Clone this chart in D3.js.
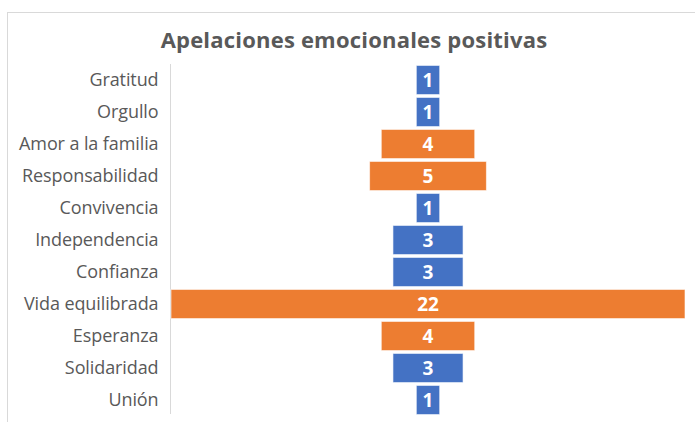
<!DOCTYPE html>
<html>
<head>
<meta charset="utf-8">
<script src="https://cdn.jsdelivr.net/npm/d3@7"></script>
<style>
  body { margin: 0; background: #fff; }
  svg { display: block; font-family: "Open Sans", sans-serif; }
</style>
</head>
<body>
<svg id="chart" width="695" height="422"></svg>
<script>
// data
var categories = ["Gratitud", "Orgullo", "Amor a la familia", "Responsabilidad", "Convivencia",
    "Independencia", "Confianza", "Vida equilibrada", "Esperanza", "Solidaridad", "Unión"];
var values = [1, 1, 4, 5, 1, 3, 3, 22, 4, 3, 1];
var groups = ["a", "a", "b", "b", "a", "a", "a", "b", "b", "a", "a"];
var title = "Apelaciones emocionales positivas";

var svg = d3.select("#chart");
const width = +svg.attr("width"),
    height = +svg.attr("height");

var color = d3.scaleOrdinal().domain(["a", "b"]).range(["#4472C4", "#ED7D31"]);

// chart frame
svg.append("rect")
    .attr("x", 7.5).attr("y", 12.5)
    .attr("width", 700).attr("height", 420)
    .attr("fill", "#fff")
    .attr("stroke", "#d9d9d9");

svg.append("text")
    .attr("x", 354).attr("y", 48)
    .attr("text-anchor", "middle")
    .attr("fill", "#595959")
    .style("font-size", "22px")
    .style("font-weight", "bold")
    .style("letter-spacing", "0.2px")
    .text(title);

var maxV = d3.max(values);
var x = d3.scaleLinear().domain([-maxV / 2, maxV / 2]).range([171, 685]);
var y = d3.scaleBand().domain(categories).range([64, 416]).paddingInner(0.09).paddingOuter(0.045);

// category axis
var yAxis = svg.append("g")
    .attr("transform", "translate(170.5,0)")
    .call(d3.axisLeft(y).tickSize(0).tickPadding(12));
yAxis.select(".domain").attr("stroke", "#d9d9d9").attr("d", "M0,64V414");
yAxis.selectAll("text")
    .attr("fill", "#595959")
    .attr("dy", "0.35em")
    .style("font-size", "18px")
    .style("letter-spacing", "-0.1px")
    .style("font-family", "'Open Sans', sans-serif");

var rows = svg.append("g").selectAll("g")
    .data(categories)
    .enter().append("g");

rows.append("rect")
    .attr("x", function(d, i) { return x(-values[i] / 2); })
    .attr("y", function(d) { return y(d); })
    .attr("width", function(d, i) { return x(values[i] / 2) - x(-values[i] / 2); })
    .attr("height", y.bandwidth())
    .attr("fill", function(d, i) { return color(groups[i]); })
    .attr("stroke", "#fff")
    .attr("stroke-opacity", 0.6)
    .attr("stroke-width", 1);

rows.append("text")
    .attr("x", x(0))
    .attr("y", function(d) { return y(d) + y.bandwidth() / 2; })
    .attr("dy", "0.36em")
    .attr("text-anchor", "middle")
    .attr("fill", "#fff")
    .style("font-size", "19px")
    .style("font-weight", "bold")
    .text(function(d, i) { return values[i]; });
</script>
</body>
</html>
